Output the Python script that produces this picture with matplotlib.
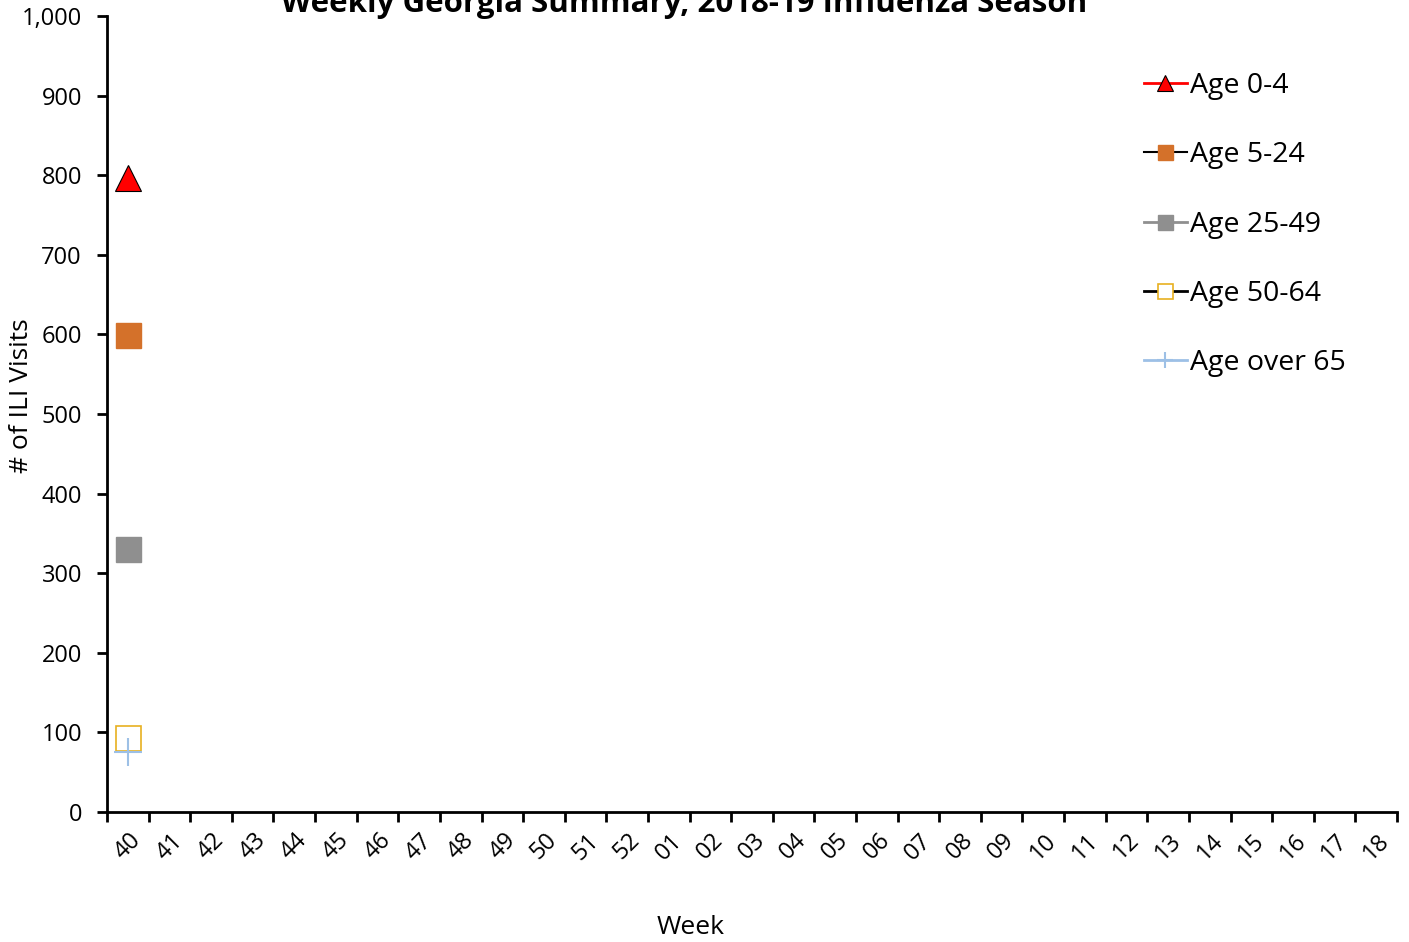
import matplotlib
matplotlib.use("Agg")
import matplotlib.pyplot as plt
import numpy as np

plt.rcParams['font.family'] = ['Open Sans', 'DejaVu Sans']

weeks = ["40", "41", "42", "43", "44", "45", "46", "47", "48", "49", "50", "51", "52",
         "01", "02", "03", "04", "05", "06", "07", "08", "09", "10", "11", "12", "13",
         "14", "15", "16", "17", "18"]
age_0_4 = [797]
age_5_24 = [599]
age_25_49 = [330]
age_50_64 = [93]
age_over_65 = [75]

fig = plt.figure(figsize=(14.09, 9.42), dpi=100)
ax = fig.add_axes([107/1409, 1-812/942, (1397-107)/1409, (812-16)/942])

x = np.arange(len(weeks))
n = len(age_0_4)
ax.plot(x[:n], age_0_4, color='red', lw=2, marker='^', ms=19, mfc='red', mec='black', mew=0.8, label='Age 0-4')
ax.plot(x[:n], age_5_24, color='black', lw=1.5, marker='s', ms=18, mfc='#d4712a', mec='#d4712a', label='Age 5-24')
ax.plot(x[:n], age_25_49, color='#8f8f8f', lw=2, marker='s', ms=18, mfc='#8f8f8f', mec='#8f8f8f', label='Age 25-49')
ax.plot(x[:n], age_50_64, color='black', lw=2, marker='s', ms=18, mfc='white', mec='#e8b020', mew=1.2, label='Age 50-64')
ax.plot(x[:n], age_over_65, color='#9dc0e6', lw=2, marker='+', ms=20, mec='#9dc0e6', mew=1.5, label='Age over 65')

ax.set_xlim(-0.5, len(weeks) - 0.5)
ax.set_ylim(0, 1000)
ax.set_yticks(np.arange(0, 1001, 100))
ax.set_yticklabels([f"{v:,}" for v in range(0, 1001, 100)], fontsize=17)
ax.set_xticks(x)
ax.set_xticklabels(weeks, rotation=45, fontsize=17, ha='center')
ax.set_xticks(np.arange(-0.5, len(weeks), 1), minor=True)
ax.tick_params(axis='x', which='major', length=0, pad=12)
ax.tick_params(axis='x', which='minor', length=7, width=2, direction='out')
ax.tick_params(axis='y', length=7, width=2, direction='out', pad=11)

for s in ['top', 'right']:
    ax.spines[s].set_visible(False)
for s in ['left', 'bottom']:
    ax.spines[s].set_linewidth(2)

fig.text(22/1409, 1-396/942, '# of ILI Visits', fontsize=19, rotation=90, ha='center', va='center')
fig.text(691/1409, 1-928/942, 'Week', fontsize=19, ha='center', va='center')
fig.text(684/1409, 1-4/942, 'Weekly Georgia Summary, 2018-19 Influenza Season',
         fontsize=22.5, fontweight='bold', ha='center', va='center')

leg = ax.legend(loc='upper left', bbox_to_anchor=(1144/1409, 1-72/942), bbox_transform=fig.transFigure,
                frameon=False, fontsize=20.5, markerscale=0.6, handlelength=1.5, handletextpad=0.1,
                labelspacing=1.45, borderpad=0, borderaxespad=0)

fig.savefig('out.png', dpi=100)
